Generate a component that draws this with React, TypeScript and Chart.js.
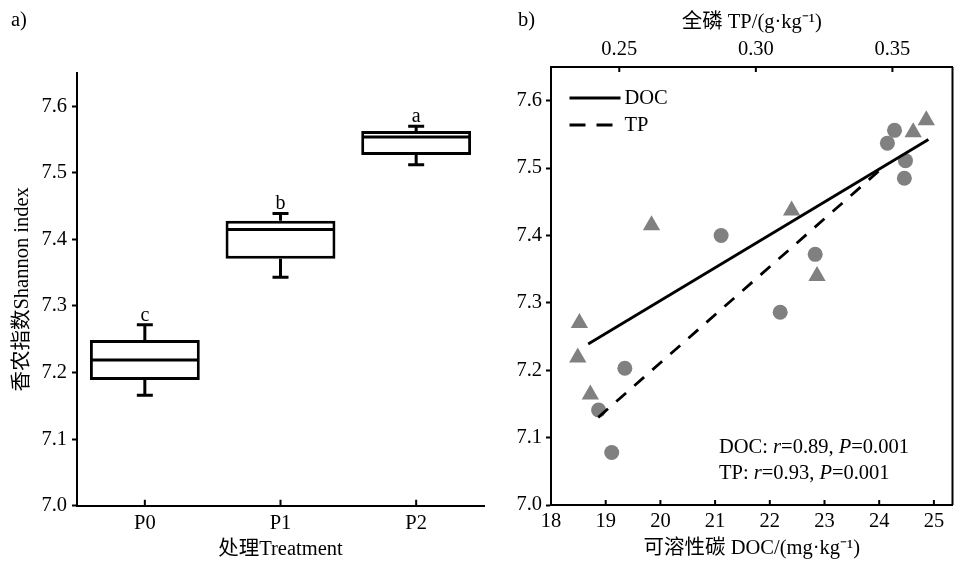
import React, { useEffect, useRef } from 'react';
import { Chart, registerables } from 'chart.js';

Chart.register(...registerables);

const FONT = "'Liberation Serif', 'Times New Roman', 'Noto Sans CJK SC', serif";
const FS = 20.5;

// ---- Panel a) box plot data ----
const treatments = ['P0', 'P1', 'P2'];
const whiskerLow = [7.166, 7.343, 7.512];
const q1 = [7.189, 7.371, 7.527];
const medians = [7.219, 7.415, 7.554];
const q3 = [7.249, 7.428, 7.563];
const whiskerHigh = [7.272, 7.439, 7.570];
const sigLetters = ['c', 'b', 'a'];

// ---- Shared y ticks ----
const shannonTicks = [7.0, 7.1, 7.2, 7.3, 7.4, 7.5, 7.6];

// ---- Panel b) scatter data ----
const docTicks = [18, 19, 20, 21, 22, 23, 24, 25];
const tpTicks = [0.25, 0.3, 0.35];

const docValues = [24.28, 24.15, 24.48, 24.46, 21.11, 22.83, 22.19, 19.35, 18.87, 19.11];
const docShannon = [7.556, 7.537, 7.511, 7.485, 7.4, 7.372, 7.286, 7.203, 7.141, 7.078];

const tpValues = [0.3624, 0.3576, 0.3131, 0.2618, 0.3224, 0.2354, 0.2348, 0.2394];
const tpShannon = [7.571, 7.553, 7.437, 7.415, 7.34, 7.27, 7.219, 7.164];

const docFitX = [18.68, 24.9];
const docFitY = [7.239, 7.5425];
const tpFitX = [0.2423, 0.3454];
const tpFitY = [7.13, 7.497];

const GRAY = '#808080';

function setTicks(values: number[]) {
  return (scale: any) => {
    scale.ticks = values.map((v) => ({ value: v }));
  };
}

function fixSize(dim: 'width' | 'height', size: number) {
  return (s: any) => {
    s[dim] = size;
    s.paddingLeft = 0;
    s.paddingRight = 0;
    s.paddingTop = 0;
    s.paddingBottom = 0;
  };
}

function inwardTicks(ctx: CanvasRenderingContext2D, scale: any, fromY: number, len: number) {
  ctx.beginPath();
  scale.ticks.forEach((_t: any, i: number) => {
    const px = scale.getPixelForTick(i);
    ctx.moveTo(px, fromY);
    ctx.lineTo(px, fromY + len);
  });
  ctx.stroke();
}

const boxPlugin = {
  id: 'boxWhiskers',
  afterDatasetsDraw(chart: any) {
    const { ctx, scales, chartArea } = chart;
    const x = scales.x;
    const y = scales.y;
    const meta = chart.getDatasetMeta(0);
    ctx.save();
    ctx.strokeStyle = '#000';
    ctx.lineWidth = 3;
    ctx.lineCap = 'butt';
    treatments.forEach((_c, i) => {
      const bar = meta.data[i];
      const cx = x.getPixelForValue(i);
      const half = bar.width / 2;
      const yMed = y.getPixelForValue(medians[i]);
      const yHi = y.getPixelForValue(whiskerHigh[i]);
      const yLo = y.getPixelForValue(whiskerLow[i]);
      const yQ3 = y.getPixelForValue(q3[i]);
      const yQ1 = y.getPixelForValue(q1[i]);
      ctx.beginPath();
      ctx.moveTo(cx - half + 1.5, yMed);
      ctx.lineTo(cx + half - 1.5, yMed);
      ctx.moveTo(cx, yQ3);
      ctx.lineTo(cx, yHi);
      ctx.moveTo(cx - 8, yHi);
      ctx.lineTo(cx + 8, yHi);
      ctx.moveTo(cx, yQ1);
      ctx.lineTo(cx, yLo);
      ctx.moveTo(cx - 8, yLo);
      ctx.lineTo(cx + 8, yLo);
      ctx.stroke();
      ctx.fillStyle = '#000';
      ctx.font = `20px ${FONT}`;
      ctx.textAlign = 'center';
      ctx.textBaseline = 'alphabetic';
      ctx.fillText(sigLetters[i], cx, yHi - 4);
    });
    ctx.lineWidth = 2;
    inwardTicks(ctx, x, chartArea.bottom, -6);
    ctx.fillStyle = '#000';
    ctx.font = `${FS}px ${FONT}`;
    ctx.textAlign = 'left';
    ctx.textBaseline = 'alphabetic';
    ctx.fillText('a)', 11, 26);
    ctx.restore();
  },
};

function drawRich(ctx: CanvasRenderingContext2D, parts: [string, boolean][], x: number, y: number) {
  let cx = x;
  parts.forEach(([txt, italic]) => {
    ctx.font = `${italic ? 'italic ' : ''}${FS}px ${FONT}`;
    ctx.fillText(txt, cx, y);
    cx += ctx.measureText(txt).width;
  });
}

const legendDashes = [[], [16, 11]];

const scatterPlugin = {
  id: 'scatterDecor',
  afterDatasetsDraw(chart: any) {
    const { ctx, scales, chartArea } = chart;
    ctx.save();
    ctx.strokeStyle = '#000';
    ctx.lineWidth = 2;
    // right border
    ctx.beginPath();
    ctx.moveTo(chartArea.right, chartArea.top);
    ctx.lineTo(chartArea.right, chartArea.bottom);
    ctx.stroke();
    inwardTicks(ctx, scales.x, chartArea.bottom, -5);
    inwardTicks(ctx, scales.x2, chartArea.top, 5);

    // legend
    const ds = chart.data.datasets;
    const legendItems = [ds[0], ds[1]];
    const lx = chartArea.left + 18.5;
    legendItems.forEach((d: any, i: number) => {
      const ly = chartArea.top + 31 + i * 27;
      ctx.lineWidth = d.borderWidth;
      ctx.setLineDash(legendDashes[i]);
      ctx.beginPath();
      ctx.moveTo(lx, ly);
      ctx.lineTo(lx + 51, ly);
      ctx.stroke();
      ctx.setLineDash([]);
      ctx.fillStyle = '#000';
      ctx.font = `${FS}px ${FONT}`;
      ctx.textAlign = 'left';
      ctx.textBaseline = 'middle';
      ctx.fillText(d.label, lx + 55, ly + 1);
    });

    // stats annotation
    ctx.textAlign = 'left';
    ctx.textBaseline = 'alphabetic';
    ctx.fillStyle = '#000';
    drawRich(ctx, [['DOC: ', false], ['r', true], ['=0.89, ', false], ['P', true], ['=0.001', false]], 719 - 480, 453);
    drawRich(ctx, [['TP: ', false], ['r', true], ['=0.93, ', false], ['P', true], ['=0.001', false]], 719 - 480, 479);

    ctx.font = `${FS}px ${FONT}`;
    ctx.fillText('b)', 518 - 480, 26);
    ctx.restore();
  },
};

const tickFont = { family: FONT, size: FS };
const titleFont = { family: FONT, size: FS };

export default function App() {
  const boxRef = useRef<HTMLCanvasElement>(null);
  const scRef = useRef<HTMLCanvasElement>(null);

  useEffect(() => {
    const boxChart = new Chart(boxRef.current as HTMLCanvasElement, {
      type: 'bar',
      data: {
        labels: treatments,
        datasets: [
          {
            data: treatments.map((_t, i) => [q1[i], q3[i]]) as any,
            backgroundColor: '#ffffff',
            borderColor: '#000000',
            borderWidth: 3,
            borderSkipped: false,
            barPercentage: 0.81,
            categoryPercentage: 1,
          },
        ],
      },
      options: {
        responsive: false,
        animation: false,
        events: [],
        layout: { autoPadding: false, padding: { left: 0, top: 73, right: 16, bottom: 0 } },
        plugins: { legend: { display: false }, tooltip: { enabled: false } },
        scales: {
          x: {
            type: 'category',
            offset: true,
            grid: { display: true, drawOnChartArea: false, drawTicks: false },
            border: { display: true, color: '#000', width: 2 },
            ticks: { font: tickFont, color: '#000', padding: 5.5 },
            title: {
              display: true,
              text: '处理Treatment',
              font: titleFont,
              color: '#000',
              padding: { top: 0, bottom: 0 },
            },
            afterFit: fixSize('height', 562 - 505.7),
          },
          y: {
            type: 'linear',
            min: 7.0,
            max: 7.65,
            afterBuildTicks: setTicks(shannonTicks),
            grid: {
              display: true,
              drawOnChartArea: false,
              drawTicks: true,
              tickLength: 5,
              tickWidth: 2,
              tickColor: '#000',
            },
            border: { display: true, color: '#000', width: 2 },
            ticks: {
              font: tickFont,
              color: '#000',
              padding: 5,
              callback: (v: any) => Number(v).toFixed(1),
            },
            title: {
              display: true,
              text: '香农指数Shannon index',
              font: titleFont,
              color: '#000',
              padding: { top: 10, bottom: 0 },
            },
            afterFit: fixSize('width', 77),
          },
        },
      },
      plugins: [boxPlugin],
    } as any);

    const scChart = new Chart(scRef.current as HTMLCanvasElement, {
      type: 'scatter',
      data: {
        datasets: [
          {
            label: 'DOC',
            data: docFitX.map((v, i) => ({ x: v, y: docFitY[i] })),
            xAxisID: 'x',
            showLine: true,
            borderColor: '#000',
            borderWidth: 2.8,
            pointRadius: 0,
            fill: false,
          },
          {
            label: 'TP',
            data: tpFitX.map((v, i) => ({ x: v, y: tpFitY[i] })),
            xAxisID: 'x2',
            showLine: true,
            borderColor: '#000',
            borderWidth: 2.8,
            borderDash: [13, 11],
            pointRadius: 0,
            fill: false,
          },
          {
            label: 'DOC points',
            data: docValues.map((v, i) => ({ x: v, y: docShannon[i] })),
            xAxisID: 'x',
            pointStyle: 'circle',
            pointRadius: 7.5,
            backgroundColor: GRAY,
            borderWidth: 0,
          },
          {
            label: 'TP points',
            data: tpValues.map((v, i) => ({ x: v, y: tpShannon[i] })),
            xAxisID: 'x2',
            pointStyle: 'triangle',
            pointRadius: 10,
            backgroundColor: GRAY,
            borderWidth: 0,
          },
        ],
      },
      options: {
        responsive: false,
        animation: false,
        events: [],
        layout: { autoPadding: false, padding: { left: 0, top: 0, right: 1.5, bottom: 0 } },
        plugins: { legend: { display: false }, tooltip: { enabled: false } },
        scales: {
          x: {
            type: 'linear',
            position: 'bottom',
            min: 18,
            max: 25.34,
            afterBuildTicks: setTicks(docTicks),
            grid: { display: true, drawOnChartArea: false, drawTicks: false },
            border: { display: true, color: '#000', width: 2 },
            ticks: { font: tickFont, color: '#000', padding: 4.5, callback: (v: any) => String(v) },
            title: {
              display: true,
              text: '可溶性碳 DOC/(mg·kg⁻¹)',
              font: titleFont,
              color: '#000',
              padding: { top: 0, bottom: 1.5 },
            },
            afterFit: fixSize('height', 562 - 505),
          },
          x2: {
            type: 'linear',
            position: 'top',
            min: 0.225,
            max: 0.372,
            afterBuildTicks: setTicks(tpTicks),
            grid: { display: true, drawOnChartArea: false, drawTicks: false },
            border: { display: true, color: '#000', width: 2 },
            ticks: {
              font: tickFont,
              color: '#000',
              padding: 5,
              callback: (v: any) => Number(v).toFixed(2),
            },
            title: {
              display: true,
              text: '全磷 TP/(g·kg⁻¹)',
              font: titleFont,
              color: '#000',
              padding: { top: 10, bottom: 0 },
            },
            afterFit: fixSize('height', 67),
          },
          y: {
            type: 'linear',
            min: 7.0,
            max: 7.65,
            afterBuildTicks: setTicks(shannonTicks),
            grid: {
              display: true,
              drawOnChartArea: false,
              drawTicks: true,
              tickLength: 5,
              tickWidth: 2,
              tickColor: '#000',
            },
            border: { display: true, color: '#000', width: 2 },
            ticks: {
              font: tickFont,
              color: '#000',
              padding: 4,
              callback: (v: any) => Number(v).toFixed(1),
            },
            afterFit: fixSize('width', 71),
          },
        },
      },
      plugins: [scatterPlugin],
    } as any);

    return () => {
      boxChart.destroy();
      scChart.destroy();
    };
  }, []);

  return (
    <div style={{ position: 'absolute', left: 0, top: 0, width: 954, height: 562, background: '#fff' }}>
      <canvas
        ref={boxRef}
        width={500}
        height={562}
        style={{ position: 'absolute', left: 0, top: 0, width: 500, height: 562 }}
      />
      <canvas
        ref={scRef}
        width={474}
        height={562}
        style={{ position: 'absolute', left: 480, top: 0, width: 474, height: 562 }}
      />
    </div>
  );
}
